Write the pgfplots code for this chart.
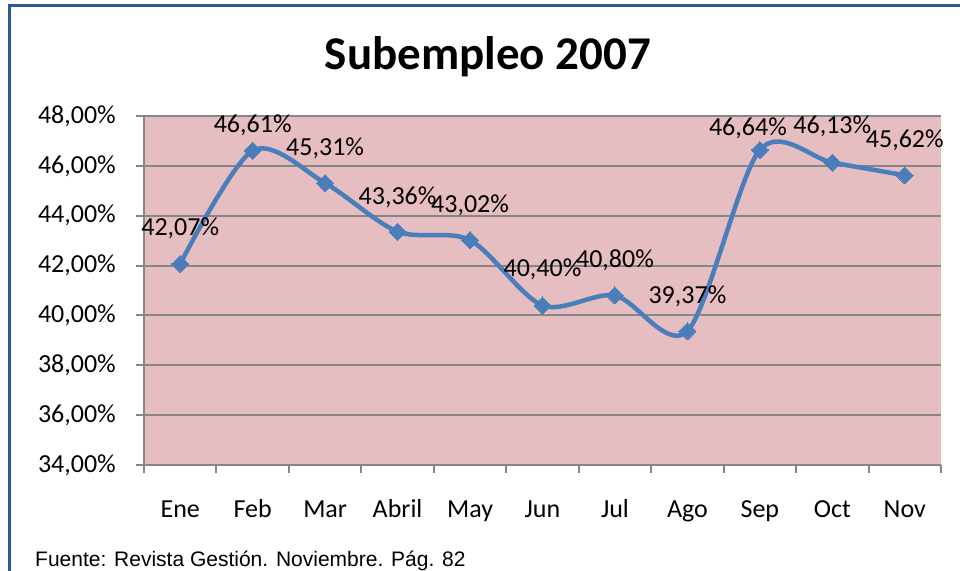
\documentclass[border=0pt]{standalone}
\usepackage{fontspec}
\setmainfont{Carlito}
\newfontfamily\arialfont{Liberation Sans}
\usepackage{pgfplots}
\pgfplotsset{compat=1.18}

\definecolor{linecol}{RGB}{74,126,187}
\definecolor{gridcol}{RGB}{134,134,134}
\definecolor{bgcol}{RGB}{230,189,192}
\definecolor{framecol}{RGB}{44,88,152}

\begin{document}
\begin{tikzpicture}
\useasboundingbox (0,0) rectangle (960bp,571bp);
% chart frame (left and top edges only are visible)
\draw[framecol, line width=2.5bp] (9.7bp,0) -- (9.7bp,565.3bp) -- (960bp,565.3bp);
\node[anchor=base, inner sep=0, font=\fontsize{47bp}{52bp}\selectfont\bfseries] at (488bp,501bp) {Subempleo 2007};
\node[anchor=base west, inner sep=0, font=\arialfont\fontsize{21bp}{24bp}\selectfont] at (35bp,4.3bp) {Fuente: Revista Gestión. Noviembre. Pág. 82};

\begin{axis}[
    at={(144bp,106bp)}, anchor=south west,
    scale only axis,
    width=797bp, height=349bp,
    xmin=-0.5, xmax=10.5,
    ymin=34, ymax=48,
    clip=false,
    axis lines=left,
    axis line style={-, gridcol, line width=2bp},
    axis background/.style={fill=bgcol},
    ymajorgrids,
    grid style={gridcol, line width=2bp},
    tick align=outside,
    major tick length=8bp,
    minor tick length=8bp,
    xtick={0,...,10},
    xticklabels={Ene,Feb,Mar,Abril,May,Jun,Jul,Ago,Sep,Oct,Nov},
    minor xtick={-0.5,0.5,...,10.5},
    major x tick style={draw=none},
    minor x tick style={gridcol, line width=2bp},
    ytick={34,36,...,48},
    yticklabels={{34,00\%},{36,00\%},{38,00\%},{40,00\%},{42,00\%},{44,00\%},{46,00\%},{48,00\%}},
    y tick style={gridcol, line width=2bp},
    tick label style={font=\fontsize{26bp}{30bp}\selectfont, inner sep=0pt},
    xticklabel style={anchor=base, yshift=-44bp},
    yticklabel style={anchor=east, xshift=-20bp},
]
\addplot[
    linecol, line width=4.5bp, smooth, line join=round,
    mark=square*, mark size=6bp,
    mark options={rotate=45, fill=linecol, draw=linecol, line width=0pt},
    point meta=explicit symbolic,
    visualization depends on={value \thisrow{dx} \as \dx},
    visualization depends on={value \thisrow{dy} \as \dy},
    nodes near coords={\pgfplotspointmeta\%},
    nodes near coords style={anchor=center, text=black, inner sep=0pt,
        font=\fontsize{26bp}{30bp}\selectfont, xshift=\dx, yshift=\dy},
] table[x=x, y=y, meta=lab] {
x  y      dx   dy    lab
0  42.07  0    35.5  42,07
1  46.61  0    25.5  46,61
2  45.31  0    35    45,31
3  43.36  0    35    43,36
4  43.02  0    35    43,02
5  40.40  0    36    40,40
6  40.80  0    35    40,80
7  39.37  0    35    39,37
8  46.64  -12  21.5  46,64
9  46.13  0    36    46,13
10 45.62  0    35    45,62
};
\end{axis}
\end{tikzpicture}
\end{document}
